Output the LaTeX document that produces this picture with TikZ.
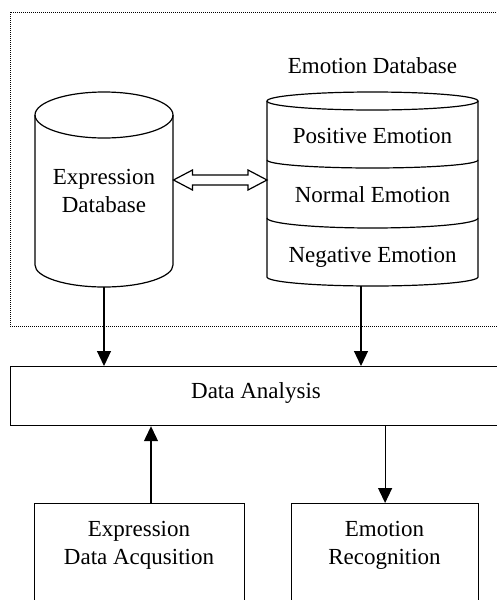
\documentclass[tikz,border=0pt]{standalone}
\usepackage{fontspec}
\setmainfont{Liberation Serif}
\usetikzlibrary{arrows.meta,calc}
\begin{document}
\begin{tikzpicture}[x=1pt,y=1pt,line width=1.2pt,
  font=\fontsize{23}{28}\selectfont,
  lbl/.style={anchor=base,inner sep=0pt},
  box/.style={draw,rectangle,inner sep=0pt,anchor=north west},
  flow/.style={-{Triangle[length=15pt,width=14pt]}},
  frame/.style={draw,dash pattern=on 1pt off 1pt,line width=1pt}]
\clip (0,0) rectangle (497,-600);
\fill[white] (0,0) rectangle (497,-600);
% dotted frame
\draw[frame] (10,-12) rectangle (505,-326);
% expression database cylinder
\draw (35,-115) -- (35,-265) arc[start angle=180,end angle=360,x radius=69,y radius=22] -- (173,-115);
\draw (104,-115) ellipse[x radius=69,y radius=23];
\node[lbl] (exptxt1) at (104,-184) {Expression};
\node[lbl] (exptxt2) at (104,-212) {Database};
\coordinate (expbot) at (104,-287);
% emotion database cylinder
\node[lbl] (emotitle) at (372.5,-73) {Emotion Database};
\draw (267,-101) -- (267,-277) arc[start angle=180,end angle=360,x radius=105.5,y radius=9] -- (478,-101);
\draw (372.5,-101) ellipse[x radius=105.5,y radius=9];
\draw (267,-160) arc[start angle=180,end angle=360,x radius=105.5,y radius=8];
\draw (267,-218) arc[start angle=180,end angle=360,x radius=105.5,y radius=10];
\node[lbl] (pos) at (372.5,-143) {Positive Emotion};
\node[lbl] (nor) at (372.5,-202) {Normal Emotion};
\node[lbl] (neg) at (372.5,-262) {Negative Emotion};
\coordinate (emobot) at (361,-286);
% double arrow
\coordinate (la) at (173.5,-180);
\coordinate (ra) at (267,-180);
\draw (la) -- ++(19,10) -- ++(0,-5) -- ($(ra)+(-19,5)$) -- ++(0,5) -- (ra)
  -- ++(-19,-10) -- ++(0,5) -- ($(la)+(19,-5)$) -- ++(0,-5) -- cycle;
% data analysis
\node[box,minimum width=495pt,minimum height=59pt] (da) at (10,-366) {};
\node[lbl] (datxt) at (256,-398) {Data Analysis};
% bottom boxes
\node[box,minimum width=210pt,minimum height=130pt] (acq) at (34,-503) {};
\node[lbl] (acqtxt1) at (139,-536) {Expression};
\node[lbl] (acqtxt2) at (139,-564) {Data Acqusition};
\node[box,minimum width=187pt,minimum height=130pt] (rec) at (291,-503) {};
\node[lbl] (rectxt1) at (384.5,-536) {Emotion};
\node[lbl] (rectxt2) at (384.5,-564) {Recognition};
% connectors
\draw[flow] (expbot) -- (expbot |- da.north);
\draw[flow] (emobot) -- (emobot |- da.north);
\coordinate (acqout) at ($(acq.north west)+(117,0)$);
\draw[flow] (acqout) -- (acqout |- da.south);
\draw[flow] (rec.north |- da.south) -- (rec.north);
\end{tikzpicture}
\end{document}
